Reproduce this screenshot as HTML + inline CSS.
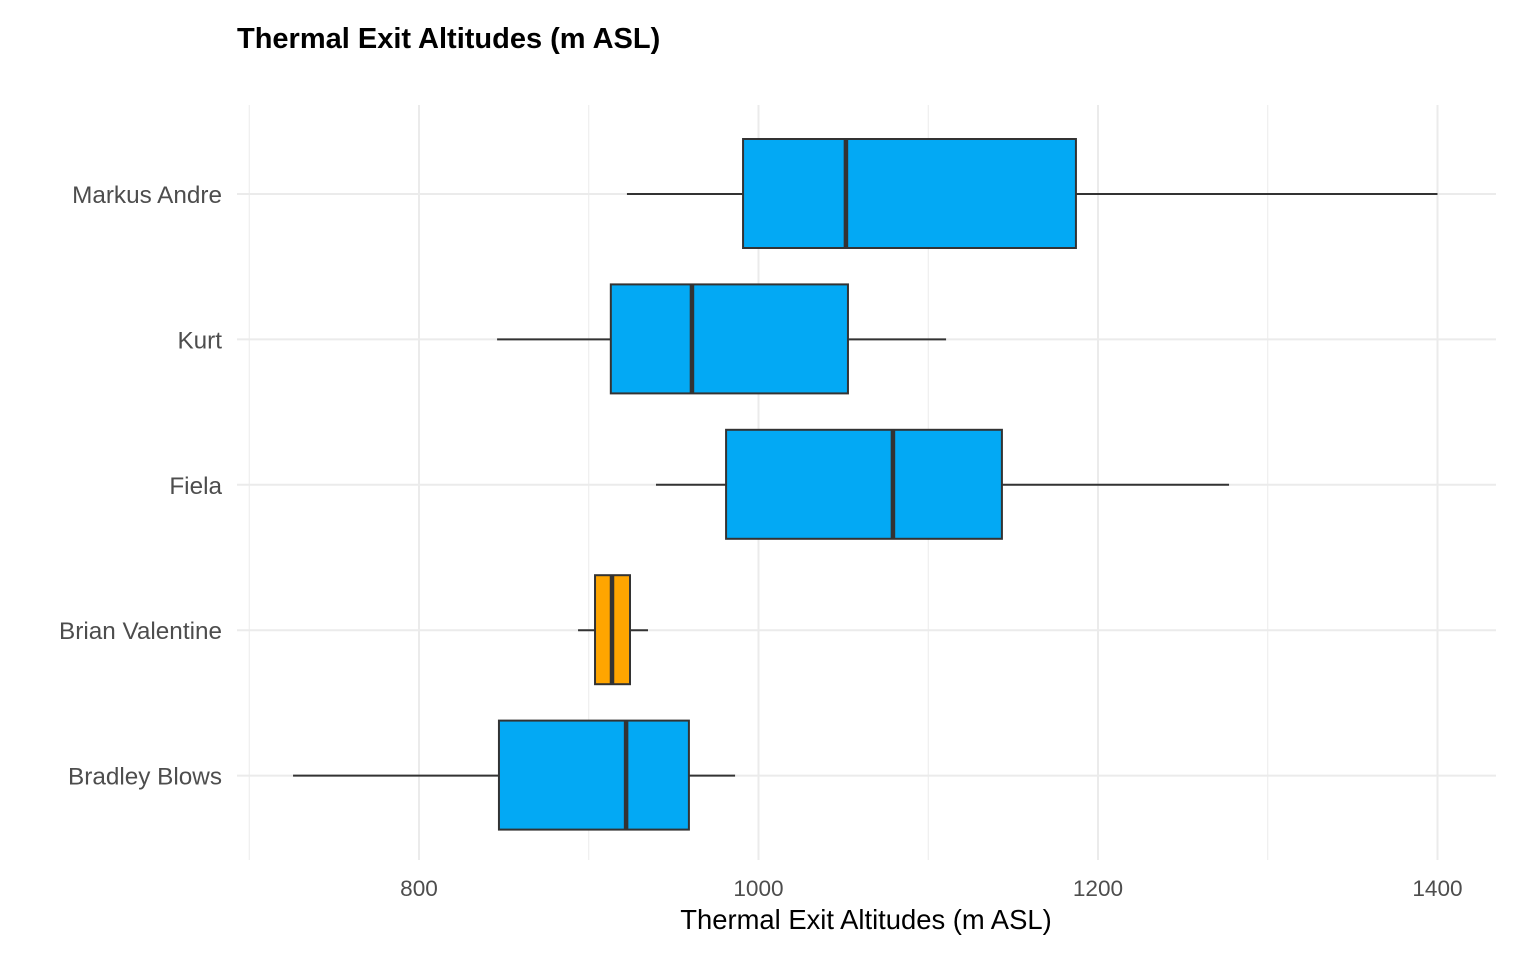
<!DOCTYPE html>
<html><head><meta charset="utf-8"><style>
body{margin:0;background:#fff;font-family:"Liberation Sans",sans-serif}
</style></head><body>
<svg id="c" width="1536" height="960" xmlns="http://www.w3.org/2000/svg">
<text x="237" y="48" font-size="29" font-weight="bold" fill="#000">Thermal Exit Altitudes (m ASL)</text>
<g id="grid"></g><g id="boxes"></g><g id="axes"></g>
<text x="866" y="929" font-size="27.4" text-anchor="middle" fill="#000">Thermal Exit Altitudes (m ASL)</text>
</svg>
<script>
const categories=["Markus Andre","Kurt","Fiela","Brian Valentine","Bradley Blows"];
const whiskerLow=[922.5,846,939.6,893.7,725.8];
const q1=[990.9,913,980.9,903.7,847.1];
const median=[1051.5,960.8,1079.2,913.7,922];
const q3=[1187,1052.7,1143.4,924.3,959];
const whiskerHigh=[1400,1110.5,1277.2,934.9,986.2];
const colors=["#03A9F4","#03A9F4","#03A9F4","#FFA500","#03A9F4"];
const majorTicks=[800,1000,1200,1400];
const minorTicks=[700,900,1100,1300];
const NS="http://www.w3.org/2000/svg";
const xs=v=>419+(v-800)*1.6975;
const ys=i=>194+i*145.4;
const L=249-12,R=1496,T=105,B=860;
function mk(t,a,p){const e=document.createElementNS(NS,t);for(const k in a)e.setAttribute(k,a[k]);p.appendChild(e);return e;}
const g=document.getElementById('grid'),bx=document.getElementById('boxes'),ax=document.getElementById('axes');
minorTicks.forEach(v=>{const l=mk('line',{x1:xs(v),x2:xs(v),y1:T,y2:B,stroke:'#ebebeb','stroke-width':1},g);

});
majorTicks.forEach(v=>{const l=mk('line',{x1:xs(v),x2:xs(v),y1:T,y2:B,stroke:'#ebebeb','stroke-width':2},g);


const t=mk('text',{x:xs(v),y:896,'font-size':22.6,'text-anchor':'middle',fill:'#4d4d4d'},ax);t.textContent=v;

});
categories.forEach((c,i)=>{const y=ys(i);
const gl=mk('line',{x1:L,x2:R,y1:y,y2:y,stroke:'#ebebeb','stroke-width':2},g);


const t=mk('text',{x:222,y:y+9,'font-size':24.3,'text-anchor':'end',fill:'#4d4d4d'},ax);t.textContent=c;


const w1=mk('line',{x1:xs(whiskerLow[i]),x2:xs(q1[i]),y1:y,y2:y,stroke:'#333','stroke-width':2},bx);


const w2=mk('line',{x1:xs(q3[i]),x2:xs(whiskerHigh[i]),y1:y,y2:y,stroke:'#333','stroke-width':2},bx);


const r=mk('rect',{x:xs(q1[i]),y:y-55,width:xs(q3[i])-xs(q1[i]),height:109,fill:colors[i],stroke:'#333','stroke-width':2},bx);


const m=mk('line',{x1:xs(median[i]),x2:xs(median[i]),y1:y-55,y2:y+54,stroke:'#333','stroke-width':4.5},bx);


});
</script>
</body></html>
